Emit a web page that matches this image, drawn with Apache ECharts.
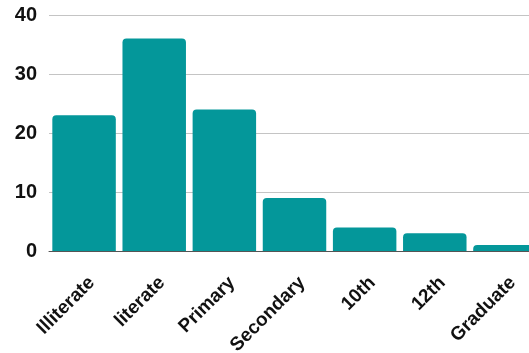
<!DOCTYPE html>
<html><head><meta charset="utf-8">
<script src="https://cdn.jsdelivr.net/npm/echarts@6/dist/echarts.min.js"></script>
<style>html,body{margin:0;padding:0;background:#fff}#c{width:529px;height:353px}</style>
</head><body><div id="c"></div>
<script>
const categories = ['Illiterate','literate','Primary','Secondary','10th','12th','Graduate'];
const values = [23, 36, 24, 9, 4, 3, 1];
const yTicks = [0, 10, 20, 30, 40];

const chart = echarts.init(document.getElementById('c'), null, {renderer:'canvas'});
chart.setOption({
  animation:false,
  grid:{left:49, right:-11, top:15, bottom:102, containLabel:false, outerBoundsMode:'none'},
  xAxis:{type:'category', data:categories,
    axisLine:{lineStyle:{color:'#555', width:1}},
    axisTick:{show:false},
    axisLabel:{rotate:45, interval:0, color:'#111', fontFamily:'Liberation Sans', fontWeight:'bold', fontSize:19,
      margin:21, verticalAlign:'top', lineHeight:22}
  },
  yAxis:{type:'value', min:yTicks[0], max:yTicks[yTicks.length-1], interval:10,
    axisLine:{show:false}, axisTick:{show:false},
    splitLine:{lineStyle:{color:'#c4c4c4', width:1}},
    axisLabel:{color:'#111', fontFamily:'Liberation Sans', fontWeight:'bold', fontSize:20, margin:12}
  },
  series:[{type:'bar', data:values, barCategoryGap:'9.5%',
    itemStyle:{color:'#04979a', borderRadius:[4,4,0,0]}}]
});
</script></body></html>
